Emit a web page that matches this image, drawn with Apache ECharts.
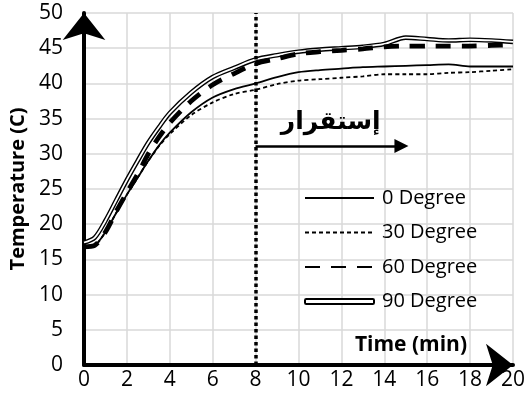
<!DOCTYPE html>
<html>
<head>
<meta charset="utf-8">
<script src="https://cdn.jsdelivr.net/npm/echarts@6/dist/echarts.min.js"></script>
<style>html,body{margin:0;padding:0;background:#fff;}#c{width:528px;height:412px;}</style>
</head>
<body>
<div id="c"></div>
<script>
// ---- data ----
var time = [0,0.5,1,1.5,2,2.5,3,3.5,4,5,6,7,8,9,10,11,12,13,14,15,16,17,18,19,20];
var deg0  = [16.8,17.0,18.9,21.6,24.2,26.6,29.0,31.2,33.0,35.9,38.0,39.2,40.0,40.9,41.6,41.9,42.1,42.3,42.4,42.5,42.6,42.7,42.4,42.4,42.4];
var deg30 = [16.8,17.0,18.9,21.6,24.2,26.6,29.0,31.1,32.8,35.5,37.3,38.5,39.1,39.9,40.4,40.6,40.8,41.0,41.3,41.3,41.3,41.5,41.6,41.8,42.0];
var deg60 = [16.8,17.0,18.9,21.8,24.5,27.1,30.0,32.4,34.4,37.5,39.8,41.4,42.8,43.5,44.2,44.5,44.7,44.9,45.2,45.3,45.3,45.3,45.3,45.4,45.5];
var deg90 = [17.4,18.1,20.5,23.4,26.3,29.0,31.6,33.8,35.8,38.7,40.9,42.2,43.4,44.0,44.5,44.8,45.0,45.2,45.6,46.5,46.3,46.1,46.2,46.1,45.9];
var seriesNames = ['0 Degree','30 Degree','60 Degree','90 Degree'];
var xTicks = {min:0, max:20, interval:2};
var yTicks = {min:0, max:50, interval:5};
var stabilityLineX = 8;
var arrowFrom = [8, 31.1];
var arrowTo = [14.8, 31.1];
var arabicLabelPos = [11.5, 34.5];
var arabicLabel = 'إستقرار';
var xTitle = 'Time (min)';
var yTitle = 'Temperature (C)';

function pairs(ys){ return time.map(function(t,i){ return [t, ys[i]]; }); }

var font = 'Open Sans';
var chart = echarts.init(document.getElementById('c'), null, {renderer:'canvas'});
chart.setOption({
  animation: false,
  backgroundColor: '#fff',
  grid: {left: 84, top: 13, right: 12, bottom: 47},
  legend: {
    orient: 'vertical', left: 304, top: 188, padding: 0,
    itemWidth: 69, itemHeight: 5, itemGap: 14.5,
    selectedMode: false,
    textStyle: {fontFamily: font, fontSize: 20, color: '#000', lineHeight: 20, padding: [0,0,0,3]},
    itemStyle: {opacity: 0},
    data: [
      {name: seriesNames[0]},
      {name: seriesNames[1]},
      {name: seriesNames[2]},
      {name: seriesNames[3], icon: 'emptyRoundRect', itemStyle: {opacity: 1}}
    ]
  },
  xAxis: {
    type: 'value', min: xTicks.min, max: xTicks.max, interval: xTicks.interval,
    name: xTitle, nameLocation: 'end', nameGap: -46,
    nameTextStyle: {fontFamily: font, fontSize: 21, fontWeight: 'bold', color: '#000', align: 'right', verticalAlign: 'bottom', padding: [0,0,9,0]},
    axisLine: {lineStyle: {color: '#000', width: 4}, symbol: ['none','arrow'], symbolSize: [32, 27], symbolOffset: [0, 0]},
    axisTick: {show: false},
    axisLabel: {fontFamily: font, fontSize: 21, color: '#000', margin: 5},
    splitLine: {show: true, lineStyle: {color: '#d9d9d9', width: 1.5}}
  },
  yAxis: {
    type: 'value', min: yTicks.min, max: yTicks.max, interval: yTicks.interval,
    name: yTitle, nameLocation: 'middle', nameGap: 56, nameRotate: 90,
    nameTextStyle: {fontFamily: font, fontSize: 20, fontWeight: 'bold', color: '#000'},
    axisLine: {lineStyle: {color: '#000', width: 4}, symbol: ['none','arrow'], symbolSize: [32, 27], symbolOffset: [0, 0]},
    axisTick: {show: false},
    axisLabel: {fontFamily: font, fontSize: 21, color: '#000', margin: 21},
    splitLine: {show: true, lineStyle: {color: '#d9d9d9', width: 1.5}}
  },
  series: [
    {
      name: seriesNames[3], type: 'line', data: pairs(deg90), smooth: 0.3, symbol: 'none', z: 2,
      lineStyle: {color: '#000', width: 4.6}, itemStyle: {color: '#000'}
    },
    {
      name: '90 Degree inner', type: 'line', data: pairs(deg90), smooth: 0.3, symbol: 'none', z: 3,
      lineStyle: {color: '#fff', width: 1.8}, itemStyle: {color: '#fff'}
    },
    {
      name: seriesNames[0], type: 'line', data: pairs(deg0), smooth: 0.3, symbol: 'none', z: 4,
      lineStyle: {color: '#000', width: 1.8}, itemStyle: {color: '#000'},
      markLine: {
        silent: true, symbol: ['none','none'], animation: false,
        label: {show: false},
        data: [
          {xAxis: stabilityLineX, lineStyle: {color: '#000', width: 3.5, type: [3.5,3]}},
          [
            {coord: arrowFrom, lineStyle: {color: '#000', width: 2.5, type: 'solid'}},
            {coord: arrowTo, symbol: 'triangle', symbolSize: [14, 14]}
          ]
        ]
      },
      markPoint: {
        silent: true, symbol: 'circle', symbolSize: 0,
        label: {show: true, position: 'inside', formatter: '{b}', fontFamily: 'DejaVu Sans', fontWeight: 'bold', fontSize: 25, color: '#000'},
        data: [{name: arabicLabel, coord: arabicLabelPos}]
      }
    },
    {
      name: seriesNames[1], type: 'line', data: pairs(deg30), smooth: 0.3, symbol: 'none', z: 4,
      lineStyle: {color: '#000', width: 1.8, type: [4,3]}, itemStyle: {color: '#000'}
    },
    {
      name: seriesNames[2], type: 'line', data: pairs(deg60), smooth: 0.3, symbol: 'none', z: 5,
      lineStyle: {color: '#000', width: 4.8, type: [15,11]}, itemStyle: {color: '#000'}
    }
  ]
});
</script>
</body>
</html>
